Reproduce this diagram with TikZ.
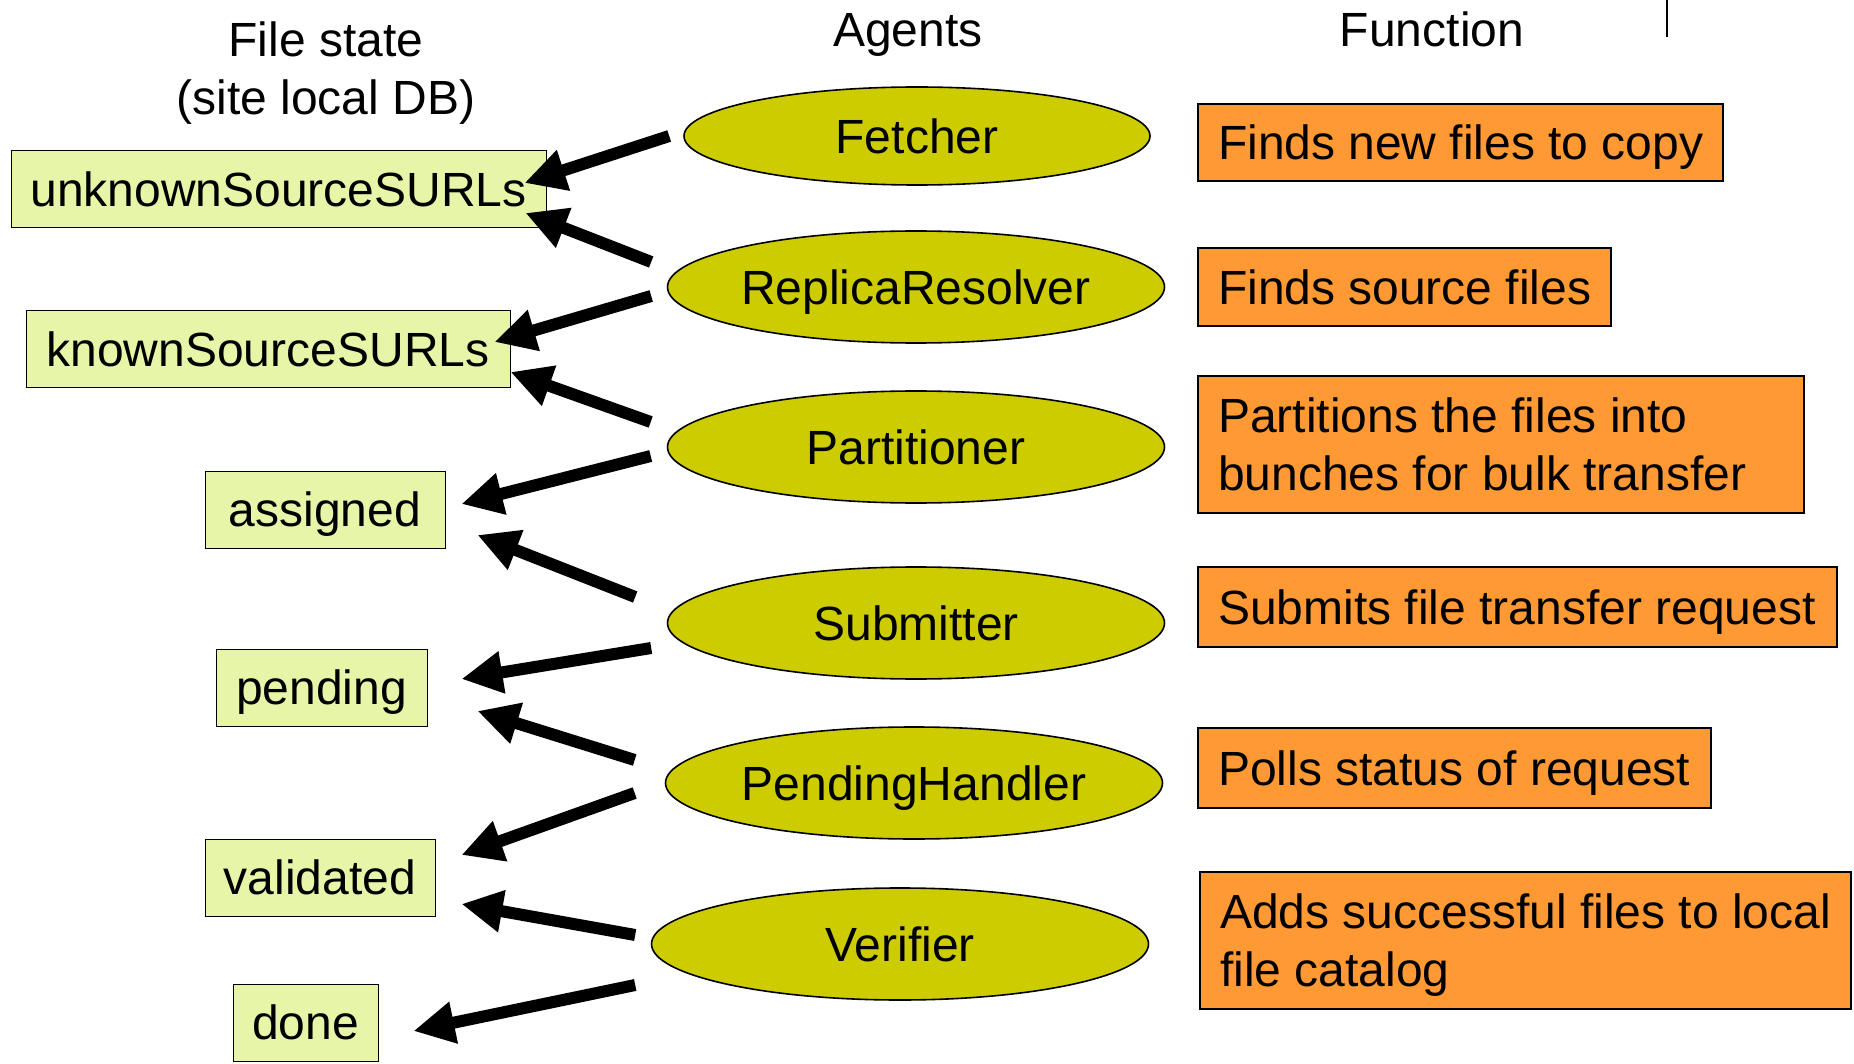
\documentclass[tikz,border=0pt]{standalone}
\usepackage{fontspec}
\setmainfont{Liberation Sans}
\usepackage{tikz}
\usetikzlibrary{arrows.meta,shapes.geometric,calc}
\definecolor{stategreen}{RGB}{230,245,168}
\definecolor{agentolive}{RGB}{204,204,0}
\definecolor{funcorange}{RGB}{255,153,51}

\begin{document}
\begin{tikzpicture}[x=0.5pt,y=-0.5pt,
	font=\fontsize{24}{29}\selectfont,
	state/.style={draw,rectangle,fill=stategreen,inner sep=0pt,minimum height=38.5pt,text depth=0pt,line width=0.5pt},
	agent/.style={draw,ellipse,fill=agentolive,inner sep=0pt,minimum width=248.5pt,minimum height=56pt,text depth=0pt,line width=0.8pt},
	func/.style={draw,rectangle,fill=funcorange,anchor=north west,align=left,inner xsep=10pt,inner ysep=0pt,text depth=0pt,line width=1.1pt,
		execute at begin node={\spaceskip=0pt\xspaceskip=0pt}},
	flow/.style={-{Triangle[length=20.5pt,width=20pt]},line width=6pt}]
	\useasboundingbox (0,0) rectangle (1854,1064);
	\node[align=center] (statehead) at (326,73.5) {File state\\(site local DB)};
	\node[anchor=base] (agenthead) at (908,47) {Agents};
	\node[anchor=base] (funchead) at (1432,47) {Function};
	\draw[line width=1pt] (1667,0) -- (1667,37);
	\node[state,minimum width=267.5pt] (unknown) at (278.5,189.5) {unknownSourceSURLs};
	\node[state,minimum width=242pt] (known) at (268,349.5) {knownSourceSURLs};
	\node[state,minimum width=120pt] (assigned) at (325,509.5) {assigned};
	\node[state,minimum width=105.5pt] (pending) at (321.5,687.5) {pending};
	\node[state,minimum width=115pt] (validated) at (320,877.5) {validated};
	\node[state,minimum width=72.5pt] (done) at (305.5,1022.5) {done};
	\node[agent,minimum width=233pt,minimum height=49pt] (fetcher) at (917,136) {Fetcher};
	\node[agent] (resolver) at (916,287) {ReplicaResolver};
	\node[agent] (partitioner) at (916,447) {Partitioner};
	\node[agent] (submitter) at (916,623) {Submitter};
	\node[agent] (handler) at (914,783) {PendingHandler};
	\node[agent] (verifier) at (900,944) {Verifier};
	\node[func,text width=242.5pt,minimum height=38.5pt] (fnew) at (1197,103) {Finds new files to copy};
	\node[func,text width=186.5pt,minimum height=39pt] (fsource) at (1197,247) {Finds source files};
	\node[func,text width=283pt,minimum height=68.5pt,text depth=29pt] (fpart) at (1197,375) {Partitions the files into\\bunches for bulk transfer};
	\node[func,text width=299.5pt,minimum height=40pt] (fsubmit) at (1197,566) {Submits file transfer request};
	\node[func,text width=236.5pt,minimum height=40pt] (fpoll) at (1197,727) {Polls status of request};
	\node[func,text width=305.5pt,minimum height=68.5pt,text depth=29pt] (fadd) at (1199,871) {Adds successful files to local\\file catalog};
	\draw[flow] ($(fetcher.west)+(-14,0)$) -- ($(unknown.east)+(-22,-6.5)$);
	\draw[flow] ($(resolver.west)+(-15.5,-25)$) -- ($(unknown.east)+(-21,23.5)$);
	\draw[flow] ($(resolver.west)+(-15.5,9)$) -- ($(known.east)+(-16,-7.5)$);
	\draw[flow] ($(partitioner.west)+(-16,-25)$) -- ($(known.east)+(0,22.5)$);
	\draw[flow] ($(partitioner.west)+(-16,9)$) -- ($(assigned.east)+(16,-5.5)$);
	\draw[flow] ($(submitter.west)+(-31.5,-26)$) -- ($(assigned.east)+(32,25.5)$);
	\draw[flow] ($(submitter.west)+(-15.5,25)$) -- ($(pending.east)+(34,-8.5)$);
	\draw[flow] ($(handler.west)+(-30,-23)$) -- ($(pending.east)+(50,23.5)$);
	\draw[flow] ($(handler.west)+(-30,10)$) -- ($(validated.east)+(26,-22.5)$);
	\draw[flow] ($(verifier.west)+(-15.5,-9)$) -- ($(validated.east)+(26,26.5)$);
	\draw[flow] ($(verifier.west)+(-15.5,41)$) -- ($(done.east)+(35,8.5)$);
\end{tikzpicture}
\end{document}
